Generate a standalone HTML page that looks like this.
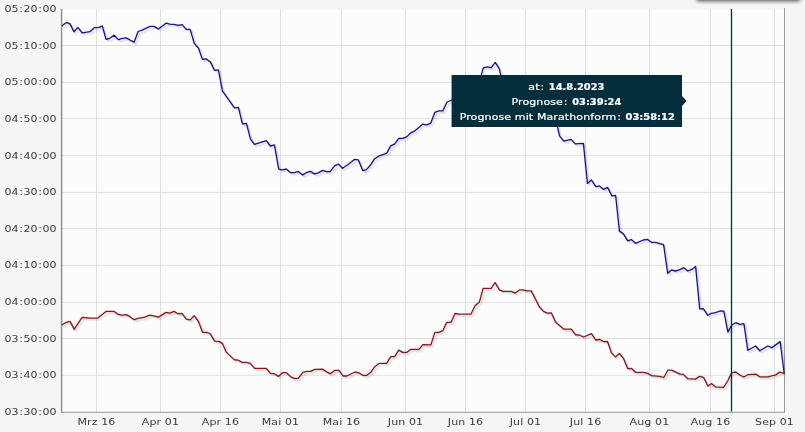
<!DOCTYPE html>
<html lang="de"><head><meta charset="utf-8"><title>Prognose</title>
<style>
html,body{margin:0;padding:0;}
body{width:805px;height:432px;overflow:hidden;background:#f5f5f5;position:relative;}
.plot{position:absolute;left:0;top:0;}
.t{position:absolute;left:0;top:0;width:695.2px;height:432px;transform-origin:0 0;transform:scaleX(1.1579);font-family:"DejaVu Sans","Liberation Sans",sans-serif;font-size:9.5px;color:#3a3a3a;}
.yl{position:absolute;left:0;width:48.8px;text-align:right;height:14px;line-height:14px;white-space:nowrap;}
.yl i{font-style:normal;padding:0 0.56px;}
.xl{position:absolute;top:414.5px;width:60px;margin-left:-30px;text-align:center;height:14px;line-height:14px;white-space:nowrap;letter-spacing:0.1px;}
.shadow{position:absolute;left:696.5px;top:-20px;width:103.5px;height:19px;background:#888;box-shadow:0 2px 4px rgba(0,0,0,0.72);}
.tip{position:absolute;left:389.7px;top:75.1px;width:184.4px;height:48px;padding:3.5px 7.3px 0;background:#042e3b;color:#fff;-webkit-text-stroke:0.2px #fff;text-align:center;line-height:15px;white-space:nowrap;letter-spacing:0.1px;}
.tip i{font-style:normal;padding:0 0.73px;}
.tip b{font-family:"DejaVu Sans Condensed","DejaVu Sans",sans-serif;font-stretch:condensed;font-weight:bold;letter-spacing:0;}
.tip:after{content:"";position:absolute;left:100%;top:50%;margin-top:-5px;border:5px solid transparent;border-left:4.3px solid #042e3b;border-right-width:0;}
</style></head><body>
<div class="shadow"></div>
<svg class="plot" width="805" height="432" viewBox="0 0 805 432">
<rect x="61.6" y="9.0" width="722.9" height="403.2" fill="#fcfcfc"/>
<path d="M61.6 45.5H784.5M61.6 82.4H784.5M61.6 118.4H784.5M61.6 155.4H784.5M61.6 192.4H784.5M61.6 228.5H784.5M61.6 265.4H784.5M61.6 302.4H784.5M61.6 338.5H784.5M61.6 375.3H784.5M96.5 9.0V412.2M160.5 9.0V412.2M220.5 9.0V412.2M280.5 9.0V412.2M341.5 9.0V412.2M405.5 9.0V412.2M465.5 9.0V412.2M525.5 9.0V412.2M585.5 9.0V412.2M649.5 9.0V412.2M710.5 9.0V412.2M774.5 9.0V412.2" stroke="#e0e0e0" stroke-width="1" fill="none"/>
<path d="M61.6 9.0V412.7" stroke="#8c8c8c" stroke-width="1.4" fill="none"/>
<path d="M61.6 412.2H785.0" stroke="#949494" stroke-width="1.1" fill="none"/>
<path d="M784.5 8.0V412.9" stroke="#999" stroke-width="1" fill="none"/>
<clipPath id="c"><rect x="61.6" y="9.0" width="723.9" height="403.2"/></clipPath>
<g clip-path="url(#c)" fill="none" stroke-linejoin="round" stroke-linecap="round">
<polyline transform="translate(0.80 0.80)" points="62,25.7 66.5,22.4 70,23.9 73.9,31.7 77.9,27.4 82.1,32.9 89.9,31.7 94.3,27.7 99.3,27.4 102.3,25.9 106,39.3 109.8,38.3 114.2,35.1 118.2,39.6 122.2,38.3 126.2,37.9 134.1,42.3 138.1,31.5 142,30.1 150,26.4 153.9,26.4 158.4,28.9 166.3,23.1 169.8,24.1 174.3,24.4 178.3,25.4 182.2,24.7 186.2,29.4 190.2,29.4 194.2,43.4 198.4,48 202.4,59.4 206.4,58.9 210.4,61.9 214.4,70.3 218.4,69.9 222.4,90.9 234.4,107.8 238.4,107.3 242.4,123.9 246.4,123.4 250.4,138.9 254.4,144.3 266.3,140.6 270.3,146 274.4,144.9 278.7,169.1 282.4,169.9 286.4,168.9 290.7,172.7 294.4,172.7 298.3,171.4 302.6,174.9 306.3,172.7 310.3,171.4 314.8,173.9 318.2,172.9 322.7,170.4 326.7,171.7 330.2,171.7 334.7,165.7 338.6,164.1 342.5,168.3 347,165.3 354.4,159.4 358.4,159.9 362.7,170.6 366.4,169.6 370.3,165.3 374.6,158.7 378.8,156.1 386.8,153.1 390.7,145.9 394.7,143.8 398.7,138.5 402.7,138.4 406.6,136.9 410.9,132.8 414.9,130.8 422.9,124.1 426.7,124.9 430.8,123.1 434.8,112.4 438.8,110.9 442.8,110.9 447,102 450.8,100.5 455,98 459,97 463,90 467,88 471,86 475,85 479,82 481.3,74.9 483.3,67.9 487.3,66.9 491.3,67.7 495.3,62.4 499.3,68.9 500.7,74.9 503.3,86 507.3,87 511.3,88 515.3,90 519.3,89 523.3,92 527.3,96 531.3,104 535.3,108 539.3,110 543.3,113 547.3,114 551.3,116 555.5,118 557.5,127 559.5,135.9 563.7,141.1 571.1,139.4 575.2,143.9 583.4,143.4 587.4,183.4 591.4,179.9 595.7,186.7 599.4,185.9 603.6,189.4 607.6,187.4 611.8,195.8 615.6,195.3 619.4,231.1 623.4,233.9 627.7,240.8 631.3,239.6 635.6,243.3 643.3,240 647.3,239.3 651.5,242.3 655.7,242.3 663.6,244.6 667.7,273.3 671.4,269.9 675.4,271 679.4,269.9 683.7,267.7 687.8,271 691.8,269.4 695.6,266.4 699.7,308.9 703.4,308.7 707.7,315.3 711.4,313.3 715.7,312.6 719.8,311 723.8,311.1 727.9,332.1 731.9,324.9 735.9,322.7 739.9,324.4 743.9,323.7 747.8,350.3 755.6,346 759.8,350.8 767.7,346 771.9,347.6 780.2,341.6 784.1,373" stroke="rgba(0,0,0,0.06)" stroke-width="1.6"/>
<polyline transform="translate(1.60 1.60)" points="62,25.7 66.5,22.4 70,23.9 73.9,31.7 77.9,27.4 82.1,32.9 89.9,31.7 94.3,27.7 99.3,27.4 102.3,25.9 106,39.3 109.8,38.3 114.2,35.1 118.2,39.6 122.2,38.3 126.2,37.9 134.1,42.3 138.1,31.5 142,30.1 150,26.4 153.9,26.4 158.4,28.9 166.3,23.1 169.8,24.1 174.3,24.4 178.3,25.4 182.2,24.7 186.2,29.4 190.2,29.4 194.2,43.4 198.4,48 202.4,59.4 206.4,58.9 210.4,61.9 214.4,70.3 218.4,69.9 222.4,90.9 234.4,107.8 238.4,107.3 242.4,123.9 246.4,123.4 250.4,138.9 254.4,144.3 266.3,140.6 270.3,146 274.4,144.9 278.7,169.1 282.4,169.9 286.4,168.9 290.7,172.7 294.4,172.7 298.3,171.4 302.6,174.9 306.3,172.7 310.3,171.4 314.8,173.9 318.2,172.9 322.7,170.4 326.7,171.7 330.2,171.7 334.7,165.7 338.6,164.1 342.5,168.3 347,165.3 354.4,159.4 358.4,159.9 362.7,170.6 366.4,169.6 370.3,165.3 374.6,158.7 378.8,156.1 386.8,153.1 390.7,145.9 394.7,143.8 398.7,138.5 402.7,138.4 406.6,136.9 410.9,132.8 414.9,130.8 422.9,124.1 426.7,124.9 430.8,123.1 434.8,112.4 438.8,110.9 442.8,110.9 447,102 450.8,100.5 455,98 459,97 463,90 467,88 471,86 475,85 479,82 481.3,74.9 483.3,67.9 487.3,66.9 491.3,67.7 495.3,62.4 499.3,68.9 500.7,74.9 503.3,86 507.3,87 511.3,88 515.3,90 519.3,89 523.3,92 527.3,96 531.3,104 535.3,108 539.3,110 543.3,113 547.3,114 551.3,116 555.5,118 557.5,127 559.5,135.9 563.7,141.1 571.1,139.4 575.2,143.9 583.4,143.4 587.4,183.4 591.4,179.9 595.7,186.7 599.4,185.9 603.6,189.4 607.6,187.4 611.8,195.8 615.6,195.3 619.4,231.1 623.4,233.9 627.7,240.8 631.3,239.6 635.6,243.3 643.3,240 647.3,239.3 651.5,242.3 655.7,242.3 663.6,244.6 667.7,273.3 671.4,269.9 675.4,271 679.4,269.9 683.7,267.7 687.8,271 691.8,269.4 695.6,266.4 699.7,308.9 703.4,308.7 707.7,315.3 711.4,313.3 715.7,312.6 719.8,311 723.8,311.1 727.9,332.1 731.9,324.9 735.9,322.7 739.9,324.4 743.9,323.7 747.8,350.3 755.6,346 759.8,350.8 767.7,346 771.9,347.6 780.2,341.6 784.1,373" stroke="rgba(0,0,0,0.06)" stroke-width="1.6"/>
<polyline transform="translate(2.40 2.40)" points="62,25.7 66.5,22.4 70,23.9 73.9,31.7 77.9,27.4 82.1,32.9 89.9,31.7 94.3,27.7 99.3,27.4 102.3,25.9 106,39.3 109.8,38.3 114.2,35.1 118.2,39.6 122.2,38.3 126.2,37.9 134.1,42.3 138.1,31.5 142,30.1 150,26.4 153.9,26.4 158.4,28.9 166.3,23.1 169.8,24.1 174.3,24.4 178.3,25.4 182.2,24.7 186.2,29.4 190.2,29.4 194.2,43.4 198.4,48 202.4,59.4 206.4,58.9 210.4,61.9 214.4,70.3 218.4,69.9 222.4,90.9 234.4,107.8 238.4,107.3 242.4,123.9 246.4,123.4 250.4,138.9 254.4,144.3 266.3,140.6 270.3,146 274.4,144.9 278.7,169.1 282.4,169.9 286.4,168.9 290.7,172.7 294.4,172.7 298.3,171.4 302.6,174.9 306.3,172.7 310.3,171.4 314.8,173.9 318.2,172.9 322.7,170.4 326.7,171.7 330.2,171.7 334.7,165.7 338.6,164.1 342.5,168.3 347,165.3 354.4,159.4 358.4,159.9 362.7,170.6 366.4,169.6 370.3,165.3 374.6,158.7 378.8,156.1 386.8,153.1 390.7,145.9 394.7,143.8 398.7,138.5 402.7,138.4 406.6,136.9 410.9,132.8 414.9,130.8 422.9,124.1 426.7,124.9 430.8,123.1 434.8,112.4 438.8,110.9 442.8,110.9 447,102 450.8,100.5 455,98 459,97 463,90 467,88 471,86 475,85 479,82 481.3,74.9 483.3,67.9 487.3,66.9 491.3,67.7 495.3,62.4 499.3,68.9 500.7,74.9 503.3,86 507.3,87 511.3,88 515.3,90 519.3,89 523.3,92 527.3,96 531.3,104 535.3,108 539.3,110 543.3,113 547.3,114 551.3,116 555.5,118 557.5,127 559.5,135.9 563.7,141.1 571.1,139.4 575.2,143.9 583.4,143.4 587.4,183.4 591.4,179.9 595.7,186.7 599.4,185.9 603.6,189.4 607.6,187.4 611.8,195.8 615.6,195.3 619.4,231.1 623.4,233.9 627.7,240.8 631.3,239.6 635.6,243.3 643.3,240 647.3,239.3 651.5,242.3 655.7,242.3 663.6,244.6 667.7,273.3 671.4,269.9 675.4,271 679.4,269.9 683.7,267.7 687.8,271 691.8,269.4 695.6,266.4 699.7,308.9 703.4,308.7 707.7,315.3 711.4,313.3 715.7,312.6 719.8,311 723.8,311.1 727.9,332.1 731.9,324.9 735.9,322.7 739.9,324.4 743.9,323.7 747.8,350.3 755.6,346 759.8,350.8 767.7,346 771.9,347.6 780.2,341.6 784.1,373" stroke="rgba(0,0,0,0.06)" stroke-width="1.6"/>
<polyline points="62,25.7 66.5,22.4 70,23.9 73.9,31.7 77.9,27.4 82.1,32.9 89.9,31.7 94.3,27.7 99.3,27.4 102.3,25.9 106,39.3 109.8,38.3 114.2,35.1 118.2,39.6 122.2,38.3 126.2,37.9 134.1,42.3 138.1,31.5 142,30.1 150,26.4 153.9,26.4 158.4,28.9 166.3,23.1 169.8,24.1 174.3,24.4 178.3,25.4 182.2,24.7 186.2,29.4 190.2,29.4 194.2,43.4 198.4,48 202.4,59.4 206.4,58.9 210.4,61.9 214.4,70.3 218.4,69.9 222.4,90.9 234.4,107.8 238.4,107.3 242.4,123.9 246.4,123.4 250.4,138.9 254.4,144.3 266.3,140.6 270.3,146 274.4,144.9 278.7,169.1 282.4,169.9 286.4,168.9 290.7,172.7 294.4,172.7 298.3,171.4 302.6,174.9 306.3,172.7 310.3,171.4 314.8,173.9 318.2,172.9 322.7,170.4 326.7,171.7 330.2,171.7 334.7,165.7 338.6,164.1 342.5,168.3 347,165.3 354.4,159.4 358.4,159.9 362.7,170.6 366.4,169.6 370.3,165.3 374.6,158.7 378.8,156.1 386.8,153.1 390.7,145.9 394.7,143.8 398.7,138.5 402.7,138.4 406.6,136.9 410.9,132.8 414.9,130.8 422.9,124.1 426.7,124.9 430.8,123.1 434.8,112.4 438.8,110.9 442.8,110.9 447,102 450.8,100.5 455,98 459,97 463,90 467,88 471,86 475,85 479,82 481.3,74.9 483.3,67.9 487.3,66.9 491.3,67.7 495.3,62.4 499.3,68.9 500.7,74.9 503.3,86 507.3,87 511.3,88 515.3,90 519.3,89 523.3,92 527.3,96 531.3,104 535.3,108 539.3,110 543.3,113 547.3,114 551.3,116 555.5,118 557.5,127 559.5,135.9 563.7,141.1 571.1,139.4 575.2,143.9 583.4,143.4 587.4,183.4 591.4,179.9 595.7,186.7 599.4,185.9 603.6,189.4 607.6,187.4 611.8,195.8 615.6,195.3 619.4,231.1 623.4,233.9 627.7,240.8 631.3,239.6 635.6,243.3 643.3,240 647.3,239.3 651.5,242.3 655.7,242.3 663.6,244.6 667.7,273.3 671.4,269.9 675.4,271 679.4,269.9 683.7,267.7 687.8,271 691.8,269.4 695.6,266.4 699.7,308.9 703.4,308.7 707.7,315.3 711.4,313.3 715.7,312.6 719.8,311 723.8,311.1 727.9,332.1 731.9,324.9 735.9,322.7 739.9,324.4 743.9,323.7 747.8,350.3 755.6,346 759.8,350.8 767.7,346 771.9,347.6 780.2,341.6 784.1,373" stroke="#111194" stroke-width="1.3"/>
<polyline transform="translate(0.80 0.80)" points="62,324.7 65.5,322.7 70,321.4 74.1,329.3 82.1,317.4 89.9,318.1 97.8,318.1 106,311.4 114.2,311.4 118.2,314.4 122.2,315.1 126.2,314.7 129.7,316.4 134.1,319.7 138.1,318.4 144.5,317.1 149.9,315.1 153.9,315.9 158.4,317.1 166,312.4 169.8,313.1 174,311.4 178,313.7 182,313.4 186.2,319.1 190.2,319.9 194.2,315.7 198.5,321.7 202.5,332.3 206.6,332.3 210.1,333.5 214.5,341.1 218.9,341.4 222.4,343.4 226.4,352.4 234.4,359.9 237.8,360 242.3,362.3 246.8,362.3 250.3,363.3 254.6,368.3 266.4,368.3 270.4,373.4 274.4,373.7 278.4,376.4 282.4,372.7 286.4,372.7 290.8,376.9 294.3,378.4 298.3,378.4 302.8,372.4 306.3,371.4 310.7,371.4 314.7,369.4 322.7,369.1 326.7,371.9 330.4,373.7 334.6,370.4 339,370.3 343,376 346.9,376 354.9,372 358.9,372.8 362.9,375.3 366.8,375.3 370.8,372.3 374.8,366.7 378.8,363.4 386.7,363.4 390.7,356.7 394.7,356.7 398.7,350.1 402.7,352.4 406.6,352.4 410.6,349.4 419,349.3 422.9,344.6 430.9,344.8 434.9,332.4 438.9,332.4 442.8,330.7 446.8,322.4 451,322.4 455,313.5 458.8,314.2 471,314 475,305.8 479.4,301.9 483.1,288.4 491.1,288.4 495.1,282.5 499.3,289.9 503.3,291.4 511.3,291.4 515.3,293.1 519.5,289.9 523.2,289.9 527.2,290.9 531.2,290.9 539.3,306.7 543.5,311.4 547.4,313.1 551.4,312.9 555.4,321.9 563.7,329.1 571.3,329.1 575.6,334.8 579.3,335 583.6,337 591.5,333.6 595.7,340 599.7,339.5 603.8,341.6 607.5,341.5 611.4,352.9 615.4,356.9 619.4,353.4 623.7,358.9 627.7,368.6 631.3,368.3 635.6,372.3 643.8,372.3 647.6,373.3 651.5,375.6 659.7,376.3 663.8,377.5 667.8,370.2 671.7,370.2 679.7,373.9 683.4,374.4 687.7,378.7 695.3,379.1 699.6,376.4 703.6,377.4 707.8,386 711.5,383.6 715.5,386.8 723.5,387.3 727.7,381 731.6,372.9 735.8,372 739.9,375 743.7,377 747.9,374.7 755.8,374.1 759.8,376.8 767.8,376.8 775.7,374.9 779.7,372.1 784.2,373.4" stroke="rgba(0,0,0,0.06)" stroke-width="1.6"/>
<polyline transform="translate(1.60 1.60)" points="62,324.7 65.5,322.7 70,321.4 74.1,329.3 82.1,317.4 89.9,318.1 97.8,318.1 106,311.4 114.2,311.4 118.2,314.4 122.2,315.1 126.2,314.7 129.7,316.4 134.1,319.7 138.1,318.4 144.5,317.1 149.9,315.1 153.9,315.9 158.4,317.1 166,312.4 169.8,313.1 174,311.4 178,313.7 182,313.4 186.2,319.1 190.2,319.9 194.2,315.7 198.5,321.7 202.5,332.3 206.6,332.3 210.1,333.5 214.5,341.1 218.9,341.4 222.4,343.4 226.4,352.4 234.4,359.9 237.8,360 242.3,362.3 246.8,362.3 250.3,363.3 254.6,368.3 266.4,368.3 270.4,373.4 274.4,373.7 278.4,376.4 282.4,372.7 286.4,372.7 290.8,376.9 294.3,378.4 298.3,378.4 302.8,372.4 306.3,371.4 310.7,371.4 314.7,369.4 322.7,369.1 326.7,371.9 330.4,373.7 334.6,370.4 339,370.3 343,376 346.9,376 354.9,372 358.9,372.8 362.9,375.3 366.8,375.3 370.8,372.3 374.8,366.7 378.8,363.4 386.7,363.4 390.7,356.7 394.7,356.7 398.7,350.1 402.7,352.4 406.6,352.4 410.6,349.4 419,349.3 422.9,344.6 430.9,344.8 434.9,332.4 438.9,332.4 442.8,330.7 446.8,322.4 451,322.4 455,313.5 458.8,314.2 471,314 475,305.8 479.4,301.9 483.1,288.4 491.1,288.4 495.1,282.5 499.3,289.9 503.3,291.4 511.3,291.4 515.3,293.1 519.5,289.9 523.2,289.9 527.2,290.9 531.2,290.9 539.3,306.7 543.5,311.4 547.4,313.1 551.4,312.9 555.4,321.9 563.7,329.1 571.3,329.1 575.6,334.8 579.3,335 583.6,337 591.5,333.6 595.7,340 599.7,339.5 603.8,341.6 607.5,341.5 611.4,352.9 615.4,356.9 619.4,353.4 623.7,358.9 627.7,368.6 631.3,368.3 635.6,372.3 643.8,372.3 647.6,373.3 651.5,375.6 659.7,376.3 663.8,377.5 667.8,370.2 671.7,370.2 679.7,373.9 683.4,374.4 687.7,378.7 695.3,379.1 699.6,376.4 703.6,377.4 707.8,386 711.5,383.6 715.5,386.8 723.5,387.3 727.7,381 731.6,372.9 735.8,372 739.9,375 743.7,377 747.9,374.7 755.8,374.1 759.8,376.8 767.8,376.8 775.7,374.9 779.7,372.1 784.2,373.4" stroke="rgba(0,0,0,0.06)" stroke-width="1.6"/>
<polyline transform="translate(2.40 2.40)" points="62,324.7 65.5,322.7 70,321.4 74.1,329.3 82.1,317.4 89.9,318.1 97.8,318.1 106,311.4 114.2,311.4 118.2,314.4 122.2,315.1 126.2,314.7 129.7,316.4 134.1,319.7 138.1,318.4 144.5,317.1 149.9,315.1 153.9,315.9 158.4,317.1 166,312.4 169.8,313.1 174,311.4 178,313.7 182,313.4 186.2,319.1 190.2,319.9 194.2,315.7 198.5,321.7 202.5,332.3 206.6,332.3 210.1,333.5 214.5,341.1 218.9,341.4 222.4,343.4 226.4,352.4 234.4,359.9 237.8,360 242.3,362.3 246.8,362.3 250.3,363.3 254.6,368.3 266.4,368.3 270.4,373.4 274.4,373.7 278.4,376.4 282.4,372.7 286.4,372.7 290.8,376.9 294.3,378.4 298.3,378.4 302.8,372.4 306.3,371.4 310.7,371.4 314.7,369.4 322.7,369.1 326.7,371.9 330.4,373.7 334.6,370.4 339,370.3 343,376 346.9,376 354.9,372 358.9,372.8 362.9,375.3 366.8,375.3 370.8,372.3 374.8,366.7 378.8,363.4 386.7,363.4 390.7,356.7 394.7,356.7 398.7,350.1 402.7,352.4 406.6,352.4 410.6,349.4 419,349.3 422.9,344.6 430.9,344.8 434.9,332.4 438.9,332.4 442.8,330.7 446.8,322.4 451,322.4 455,313.5 458.8,314.2 471,314 475,305.8 479.4,301.9 483.1,288.4 491.1,288.4 495.1,282.5 499.3,289.9 503.3,291.4 511.3,291.4 515.3,293.1 519.5,289.9 523.2,289.9 527.2,290.9 531.2,290.9 539.3,306.7 543.5,311.4 547.4,313.1 551.4,312.9 555.4,321.9 563.7,329.1 571.3,329.1 575.6,334.8 579.3,335 583.6,337 591.5,333.6 595.7,340 599.7,339.5 603.8,341.6 607.5,341.5 611.4,352.9 615.4,356.9 619.4,353.4 623.7,358.9 627.7,368.6 631.3,368.3 635.6,372.3 643.8,372.3 647.6,373.3 651.5,375.6 659.7,376.3 663.8,377.5 667.8,370.2 671.7,370.2 679.7,373.9 683.4,374.4 687.7,378.7 695.3,379.1 699.6,376.4 703.6,377.4 707.8,386 711.5,383.6 715.5,386.8 723.5,387.3 727.7,381 731.6,372.9 735.8,372 739.9,375 743.7,377 747.9,374.7 755.8,374.1 759.8,376.8 767.8,376.8 775.7,374.9 779.7,372.1 784.2,373.4" stroke="rgba(0,0,0,0.06)" stroke-width="1.6"/>
<polyline points="62,324.7 65.5,322.7 70,321.4 74.1,329.3 82.1,317.4 89.9,318.1 97.8,318.1 106,311.4 114.2,311.4 118.2,314.4 122.2,315.1 126.2,314.7 129.7,316.4 134.1,319.7 138.1,318.4 144.5,317.1 149.9,315.1 153.9,315.9 158.4,317.1 166,312.4 169.8,313.1 174,311.4 178,313.7 182,313.4 186.2,319.1 190.2,319.9 194.2,315.7 198.5,321.7 202.5,332.3 206.6,332.3 210.1,333.5 214.5,341.1 218.9,341.4 222.4,343.4 226.4,352.4 234.4,359.9 237.8,360 242.3,362.3 246.8,362.3 250.3,363.3 254.6,368.3 266.4,368.3 270.4,373.4 274.4,373.7 278.4,376.4 282.4,372.7 286.4,372.7 290.8,376.9 294.3,378.4 298.3,378.4 302.8,372.4 306.3,371.4 310.7,371.4 314.7,369.4 322.7,369.1 326.7,371.9 330.4,373.7 334.6,370.4 339,370.3 343,376 346.9,376 354.9,372 358.9,372.8 362.9,375.3 366.8,375.3 370.8,372.3 374.8,366.7 378.8,363.4 386.7,363.4 390.7,356.7 394.7,356.7 398.7,350.1 402.7,352.4 406.6,352.4 410.6,349.4 419,349.3 422.9,344.6 430.9,344.8 434.9,332.4 438.9,332.4 442.8,330.7 446.8,322.4 451,322.4 455,313.5 458.8,314.2 471,314 475,305.8 479.4,301.9 483.1,288.4 491.1,288.4 495.1,282.5 499.3,289.9 503.3,291.4 511.3,291.4 515.3,293.1 519.5,289.9 523.2,289.9 527.2,290.9 531.2,290.9 539.3,306.7 543.5,311.4 547.4,313.1 551.4,312.9 555.4,321.9 563.7,329.1 571.3,329.1 575.6,334.8 579.3,335 583.6,337 591.5,333.6 595.7,340 599.7,339.5 603.8,341.6 607.5,341.5 611.4,352.9 615.4,356.9 619.4,353.4 623.7,358.9 627.7,368.6 631.3,368.3 635.6,372.3 643.8,372.3 647.6,373.3 651.5,375.6 659.7,376.3 663.8,377.5 667.8,370.2 671.7,370.2 679.7,373.9 683.4,374.4 687.7,378.7 695.3,379.1 699.6,376.4 703.6,377.4 707.8,386 711.5,383.6 715.5,386.8 723.5,387.3 727.7,381 731.6,372.9 735.8,372 739.9,375 743.7,377 747.9,374.7 755.8,374.1 759.8,376.8 767.8,376.8 775.7,374.9 779.7,372.1 784.2,373.4" stroke="#8c1216" stroke-width="1.3"/>
</g>
<path d="M731.5 9.0V411.59999999999997" stroke="#042e3b" stroke-width="1.3" fill="none"/>
</svg>
<div class="t">
<div class="yl" style="top:1.6px">05<i>:</i>20<i>:</i>00</div>
<div class="yl" style="top:38.6px">05<i>:</i>10<i>:</i>00</div>
<div class="yl" style="top:74.6px">05<i>:</i>00<i>:</i>00</div>
<div class="yl" style="top:111.6px">04<i>:</i>50<i>:</i>00</div>
<div class="yl" style="top:148.6px">04<i>:</i>40<i>:</i>00</div>
<div class="yl" style="top:184.6px">04<i>:</i>30<i>:</i>00</div>
<div class="yl" style="top:221.6px">04<i>:</i>20<i>:</i>00</div>
<div class="yl" style="top:257.6px">04<i>:</i>10<i>:</i>00</div>
<div class="yl" style="top:294.6px">04<i>:</i>00<i>:</i>00</div>
<div class="yl" style="top:331.6px">03<i>:</i>50<i>:</i>00</div>
<div class="yl" style="top:367.6px">03<i>:</i>40<i>:</i>00</div>
<div class="yl" style="top:404.6px">03<i>:</i>30<i>:</i>00</div>
<div class="xl" style="left:83.3px">Mrz 16</div>
<div class="xl" style="left:138.6px">Apr 01</div>
<div class="xl" style="left:190.4px">Apr 16</div>
<div class="xl" style="left:242.2px">Mai 01</div>
<div class="xl" style="left:294.9px">Mai 16</div>
<div class="xl" style="left:350.2px">Jun 01</div>
<div class="xl" style="left:402.0px">Jun 16</div>
<div class="xl" style="left:453.8px">Jul 01</div>
<div class="xl" style="left:505.7px">Jul 16</div>
<div class="xl" style="left:560.9px">Aug 01</div>
<div class="xl" style="left:613.6px">Aug 16</div>
<div class="xl" style="left:668.9px">Sep 01</div>
<div class="tip"><div>at<i>:</i> <b>14.8.2023</b></div><div>Prognose<i>:</i> <b>03:39:24</b></div><div>Prognose mit Marathonform<i>:</i> <b>03:58:12</b></div></div>
</div>
</body></html>
